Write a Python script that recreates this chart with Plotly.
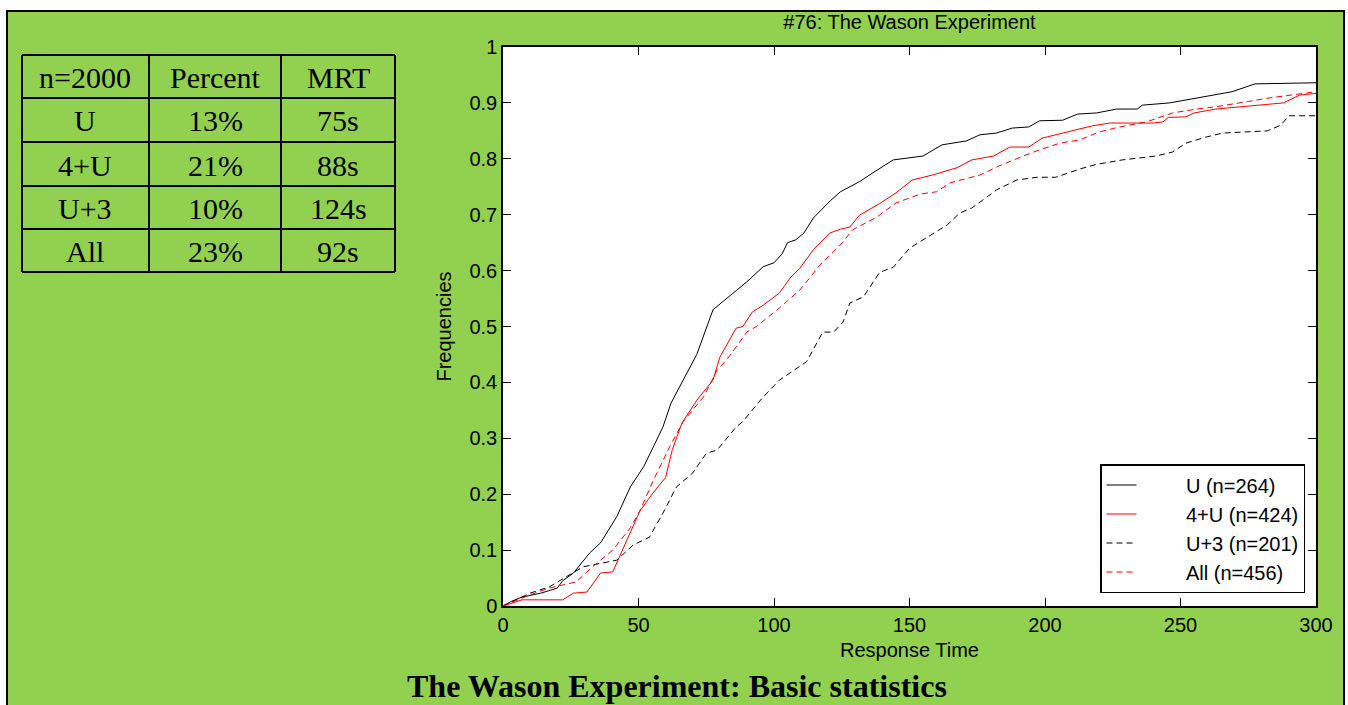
import plotly.graph_objects as go

# ---------------- data ----------------
u_t = [0, 3, 7, 14, 20, 22, 26, 32, 36, 42, 47, 52, 55, 59, 62, 65, 71.5, 77.5, 82.5, 90, 96, 100, 103, 105,
       108, 111, 114.5, 121, 124.5, 131.5, 136.5, 144, 155, 162, 171, 176, 182, 188, 194, 198, 206.5, 212,
       219, 226.5, 234, 236, 246, 252, 263, 269, 277.5, 291.5, 300]
u_f = [0, 0.008, 0.016, 0.023, 0.032, 0.045, 0.059, 0.095, 0.113, 0.16, 0.213, 0.25, 0.28, 0.32, 0.363, 0.39,
       0.45, 0.53, 0.55, 0.58, 0.607, 0.614, 0.63, 0.65, 0.655, 0.667, 0.694, 0.726, 0.741, 0.759, 0.775,
       0.798, 0.805, 0.825, 0.832, 0.843, 0.846, 0.855, 0.857, 0.868, 0.869, 0.88, 0.882, 0.889, 0.889,
       0.896, 0.9, 0.905, 0.914, 0.92, 0.934, 0.936, 0.936]

fu_t = [0, 4, 7, 22, 26, 31, 36, 40.5, 43, 47, 50.5, 55, 60, 62.5, 66, 71.5, 77.5, 80, 86, 88.5, 92, 96, 102,
        106, 109.5, 114.5, 120.5, 124.5, 128, 131.5, 139, 145, 151, 158.5, 167.5, 173, 181, 187, 194, 199,
        206.5, 212, 217.5, 224, 240, 243.5, 245.5, 252, 255, 263, 272, 288, 294, 300]
fu_f = [0, 0.006, 0.011, 0.011, 0.023, 0.025, 0.059, 0.061, 0.088, 0.13, 0.17, 0.2, 0.23, 0.28, 0.327, 0.368,
        0.404, 0.445, 0.497, 0.5, 0.526, 0.538, 0.56, 0.587, 0.604, 0.637, 0.667, 0.674, 0.678, 0.699, 0.72,
        0.739, 0.762, 0.771, 0.784, 0.798, 0.805, 0.821, 0.821, 0.837, 0.846, 0.852, 0.859, 0.864, 0.864,
        0.866, 0.874, 0.875, 0.882, 0.889, 0.893, 0.9, 0.914, 0.917]

u3_t = [0, 5, 10, 17, 29.5, 42, 48, 54, 59, 64, 70, 75, 79, 86, 88.5, 96, 102, 112, 118, 122, 125.5, 128, 133,
        139, 144, 150, 156, 164, 168.5, 173, 177, 182, 189.5, 197, 204, 213, 219, 228.5, 241, 247, 252,
        259.5, 265.5, 282, 287, 290, 300]
u3_f = [0, 0.012, 0.023, 0.034, 0.07, 0.082, 0.109, 0.123, 0.166, 0.213, 0.238, 0.273, 0.279, 0.32, 0.33,
        0.374, 0.404, 0.437, 0.49, 0.49, 0.508, 0.542, 0.553, 0.597, 0.606, 0.64, 0.658, 0.682, 0.703, 0.712,
        0.726, 0.744, 0.762, 0.767, 0.767, 0.782, 0.79, 0.798, 0.805, 0.812, 0.828, 0.839, 0.846, 0.85,
        0.86, 0.877, 0.877]

all_t = [0, 5, 10, 17, 27, 33, 40.5, 47, 50.5, 55.5, 61.5, 66.5, 74, 79, 82.5, 90, 93.5, 102, 109.5, 117,
         124.5, 129, 138, 145, 154, 160, 165, 176, 183, 193, 198, 205.5, 213, 220, 227.5, 237.5, 247, 256,
         263, 283, 300]
all_f = [0, 0.01, 0.02, 0.032, 0.043, 0.07, 0.1, 0.14, 0.17, 0.225, 0.285, 0.33, 0.374, 0.422, 0.44, 0.49,
         0.5, 0.533, 0.565, 0.61, 0.646, 0.673, 0.696, 0.721, 0.737, 0.741, 0.757, 0.771, 0.787, 0.807, 0.816,
         0.828, 0.834, 0.848, 0.857, 0.866, 0.882, 0.889, 0.893, 0.909, 0.92]

series_names = ["U (n=264)", "4+U (n=424)", "U+3 (n=201)", "All (n=456)"]

table_rows = [
    ["n=2000", "Percent", "MRT"],
    ["U", "13%", "75s"],
    ["4+U", "21%", "88s"],
    ["U+3", "10%", "124s"],
    ["All", "23%", "92s"],
]

x_ticks = [0, 50, 100, 150, 200, 250, 300]
y_ticks = [0, 0.1, 0.2, 0.3, 0.4, 0.5, 0.6, 0.7, 0.8, 0.9, 1]

# ---------------- layout helpers ----------------
W, H = 1348, 705
L, R, T, B = 503, 1316, 47, 606
GREEN = "#92D050"
LEGEND_PAD = "\u00a0" * 8   # widens the gap between legend sample and label, as in the original


def xp(px):
    return (px - L) / (R - L)


def yp(py):
    return (B - py) / (B - T)


fig = go.Figure()
styles = [
    (u_t, u_f, "black", "solid"),
    (fu_t, fu_f, "#FF0000", "solid"),
    (u3_t, u3_f, "black", "6px,4px"),
    (all_t, all_f, "#FF0000", "6px,4px"),
]
for (t, f, c, d), name in zip(styles, series_names):
    fig.add_trace(go.Scatter(x=t, y=f, mode="lines", name=LEGEND_PAD + name,
                             line=dict(color=c, width=1, dash=d)))

shapes = []
# white strips outside the green framed area
shapes.append(dict(type="rect", xref="paper", yref="paper", x0=xp(0), x1=xp(W), y0=yp(0), y1=yp(10),
                   fillcolor="white", line=dict(width=0), layer="below"))
shapes.append(dict(type="rect", xref="paper", yref="paper", x0=xp(0), x1=xp(6), y0=yp(0), y1=yp(H + 5),
                   fillcolor="white", line=dict(width=0), layer="below"))
shapes.append(dict(type="rect", xref="paper", yref="paper", x0=xp(1345), x1=xp(W), y0=yp(0), y1=yp(H + 5),
                   fillcolor="white", line=dict(width=0), layer="below"))
# frame border
shapes.append(dict(type="rect", xref="paper", yref="paper", x0=xp(7), x1=xp(1344), y0=yp(11), y1=yp(H + 10),
                   line=dict(color="black", width=2), fillcolor="rgba(0,0,0,0)"))

# table grid
col_edges = [22, 149, 281, 395]
row_edges = [55, 98, 142, 186, 229, 272]
for cx in col_edges:
    shapes.append(dict(type="line", xref="paper", yref="paper", x0=xp(cx), x1=xp(cx),
                       y0=yp(row_edges[0]), y1=yp(row_edges[-1]), line=dict(color="black", width=2)))
for ry in row_edges:
    shapes.append(dict(type="line", xref="paper", yref="paper", x0=xp(col_edges[0]), x1=xp(col_edges[-1]),
                       y0=yp(ry), y1=yp(ry), line=dict(color="black", width=2)))

annotations = []
for ri, row in enumerate(table_rows):
    cy = (row_edges[ri] + row_edges[ri + 1]) / 2 + 1
    for ci, txt in enumerate(row):
        cx = (col_edges[ci] + col_edges[ci + 1]) / 2
        annotations.append(dict(text=txt, x=xp(cx), y=yp(cy), xref="paper", yref="paper",
                                showarrow=False, xanchor="center", yanchor="middle",
                                font=dict(family="Liberation Serif, Times New Roman, serif", size=30,
                                          color="black")))

annotations.append(dict(text="<b>The Wason Experiment: Basic statistics</b>", x=xp(677), y=yp(686),
                        xref="paper", yref="paper", showarrow=False, xanchor="center", yanchor="middle",
                        font=dict(family="Liberation Serif, Times New Roman, serif", size=32,
                                  color="black")))

axis_font = dict(family="Liberation Sans, Arial, sans-serif", size=20, color="black")

fig.update_layout(
    width=W, height=H,
    margin=dict(l=L, r=W - R, t=T, b=H - B, pad=0),
    paper_bgcolor=GREEN,
    plot_bgcolor="white",
    font=axis_font,
    title=dict(text="#76: The Wason Experiment", x=xp((L + R) / 2), xref="paper", xanchor="center",
               y=1 - 22 / H, yref="container", yanchor="middle",
               font=dict(family="Liberation Sans, Arial, sans-serif", size=20, color="black")),
    xaxis=dict(range=[0, 300], tickvals=x_ticks, ticks="inside", ticklen=8, tickcolor="black",
               showline=True, linecolor="black", linewidth=1.5, mirror="ticks", showgrid=False,
               zeroline=False, tickfont=axis_font,
               title=dict(text="Response Time", font=axis_font, standoff=8)),
    yaxis=dict(range=[0, 1], tickvals=y_ticks, ticks="inside", ticklen=8, tickcolor="black",
               showline=True, linecolor="black", linewidth=1.5, mirror="ticks", showgrid=False,
               zeroline=False, tickfont=axis_font,
               title=dict(text="Frequencies", font=axis_font, standoff=12)),
    legend=dict(x=xp(1305), y=yp(593), xanchor="right", yanchor="bottom",
                bgcolor="white", bordercolor="black", borderwidth=1.5,
                font=axis_font, tracegroupgap=0),
    shapes=shapes,
    annotations=annotations,
    showlegend=True,
)

fig.write_html("out.html", config={"displayModeBar": False},
               post_script="document.body.style.margin='0px';document.body.style.padding='0px';"
                           "document.body.style.overflow='hidden';")
